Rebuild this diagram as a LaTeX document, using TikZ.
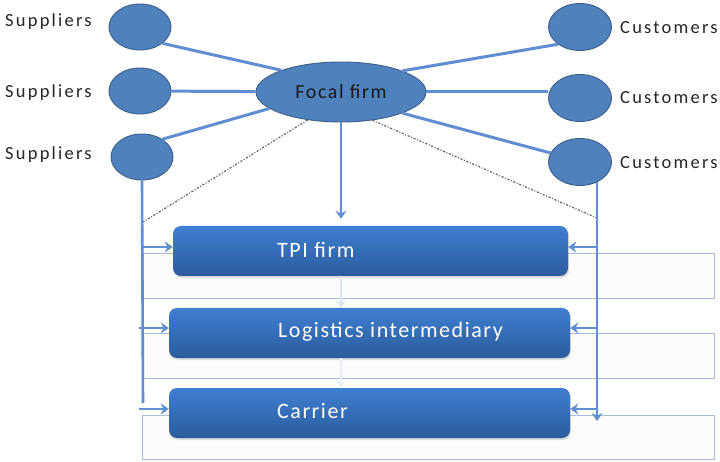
\documentclass[tikz,border=0pt]{standalone}
\usepackage{fontspec}
\setmainfont{Carlito}
\newfontfamily\lblfont[LetterSpace=12]{Carlito}
\newfontfamily\focalfont[LetterSpace=8]{Carlito}
\newfontfamily\boxfont[LetterSpace=7]{Carlito}
\usetikzlibrary{shapes.geometric,arrows.meta,shadows}
\definecolor{ellfill}{HTML}{4F81BD}
\definecolor{elldraw}{HTML}{3A5F8B}
\definecolor{conn}{HTML}{5F8FD2}
\definecolor{boxtop}{HTML}{3F7FD0}
\definecolor{boxbot}{HTML}{2B5C9D}
\definecolor{bgline}{HTML}{A5BEDF}
\definecolor{faint}{HTML}{DCE6F2}
\tikzset{
  party/.style={ellipse, fill=ellfill, draw=elldraw, line width=0.9pt, inner sep=0pt,
    minimum width=62pt, minimum height=46pt},
  focalnode/.style={ellipse, fill=ellfill, draw=elldraw, line width=0.9pt, inner sep=0pt,
    minimum width=170pt, minimum height=60pt, font=\focalfont\fontsize{20}{24}\selectfont, text=black!90},
  lbl/.style={anchor=west, inner sep=0pt, font=\lblfont\fontsize{18.5}{22}\selectfont, text=black!85},
  conline/.style={draw=conn, line width=3pt},
  arr/.style={draw=conn, line width=2.6pt, -{Stealth[length=8pt,width=11pt]}},
  farr/.style={draw=faint, line width=2.4pt, -{Stealth[length=7pt,width=10pt]}},
  dotline/.style={draw=black!60, line width=1.2pt, dash pattern=on 2.2pt off 1.6pt on 1pt off 1.6pt},
  flowbox/.style={rounded corners=8pt, top color=boxtop, bottom color=boxbot, draw=none,
    inner sep=0pt, drop shadow={opacity=0.25, shadow xshift=1pt, shadow yshift=-2pt}},
  boxtext/.style={anchor=west, inner sep=0pt, text=white, font=\boxfont\fontsize{22}{26}\selectfont},
  bgbox/.style={draw=bgline, line width=1.3pt, fill=black!1, inner sep=0pt, anchor=north west},
}
\begin{document}
\begin{tikzpicture}[x=1pt,y=-1pt]
\useasboundingbox[fill=white] (0,0) rectangle (720,462);
% background outline rectangles
\node[bgbox, minimum width=571pt, minimum height=45pt] (bg1) at (143,253) {};
\node[bgbox, minimum width=571pt, minimum height=45pt] (bg2) at (143,333) {};
\node[bgbox, minimum width=572pt, minimum height=44pt] (bg3) at (142,415) {};
% parties
\node[party] (s1) at (140,27) {};
\node[party] (s2) at (140,91) {};
\node[party] (s3) at (142,157) {};
\node[party, minimum width=63pt, minimum height=47pt] (c1) at (580,27) {};
\node[party, minimum width=63pt, minimum height=47pt] (c2) at (580,98) {};
\node[party, minimum width=63pt, minimum height=47pt] (c3) at (580,162) {};
\node[focalnode] (focal) at (341,92) {Focal firm};
% labels
\node[lbl] (ls1) at (5,22) {Suppliers};
\node[lbl] (ls2) at (5,93) {Suppliers};
\node[lbl] (ls3) at (5,155) {Suppliers};
\node[lbl] (lc1) at (620,28) {Customers};
\node[lbl] (lc2) at (620,98) {Customers};
\node[lbl] (lc3) at (620,163) {Customers};
% boxes
\node[flowbox, minimum width=395pt, minimum height=50pt] (tpi) at (370.5,251) {};
\node[flowbox, minimum width=401pt, minimum height=50pt] (log) at (369.5,333) {};
\node[flowbox, minimum width=401pt, minimum height=50pt] (car) at (369.5,413) {};
\node[boxtext] (ttpi) at (277,250) {TPI firm};
\node[boxtext] (tlog) at (278,332) {Logistics intermediary};
\node[boxtext] (tcar) at (277,411) {Carrier};
% coordinates
\coordinate (dl) at (143,222);
\coordinate (dr) at (597,218);
\coordinate (lb) at (143,403);
\coordinate (rt) at (597,182);
\coordinate (rb) at (597,421);
\coordinate (la1) at (143,247);
\coordinate (la2) at (139,328);
\coordinate (la3) at (139,409);
\coordinate (ra1) at (597,247);
\coordinate (ra2) at (597,328);
\coordinate (ra3) at (597,409);
% connectors to focal firm
\draw[conline] (s1.-36) -- (focal.160);
\draw[conline] (s2) -- (focal);
\draw[conline] (s3.41) -- (focal.193);
\draw[conline] (c1.218) -- (focal.19);
\draw[conline] (focal.east) -- (focal.east -| c2.west);
\draw[conline] (c3.163) -- (focal.-19);
% dotted
\draw[dotline] (focal.220) -- (dl);
\draw[dotline] (focal.-42) -- (dr);
% main arrow
\draw[arr, shorten >=7pt] (focal.south) -- (focal.south |- tpi.north);
% faint arrows between boxes
\draw[farr] (tpi.south -| focal.south) -- (log.north -| focal.south);
\draw[farr, draw=faint!60] (log.south -| focal.south) -- (car.north -| focal.south);
% verticals
\draw[conline, line width=2.6pt] (s3.south) -- (lb);
\draw[arr] (rt) -- (rb);
% side arrows
\draw[arr] (la1) -- (la1 -| tpi.west);
\draw[arr] (la2) -- (la2 -| log.west);
\draw[arr] (la3) -- (la3 -| car.west);
\draw[arr] (ra1) -- (ra1 -| tpi.east);
\draw[arr] (ra2) -- (ra2 -| log.east);
\draw[arr] (ra3) -- (ra3 -| car.east);
\end{tikzpicture}
\end{document}
